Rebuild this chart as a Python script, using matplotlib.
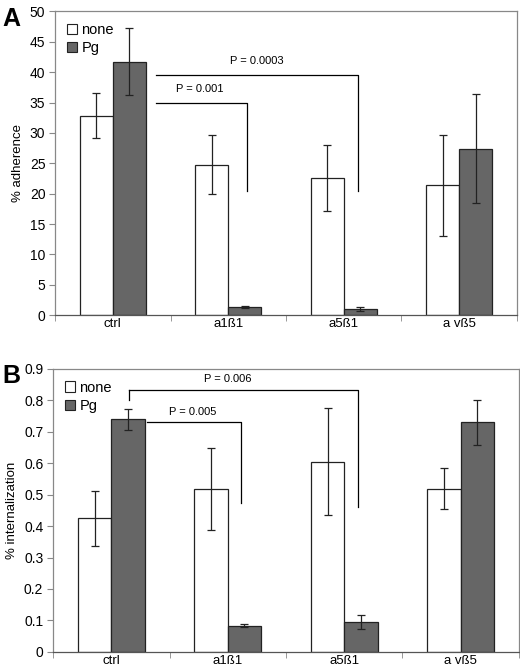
import numpy as np
import matplotlib
matplotlib.use('Agg')
import matplotlib.pyplot as plt
from matplotlib.patches import Patch

plt.rcParams['font.family'] = ['Liberation Sans', 'DejaVu Sans']

categories = ['ctrl', 'a1ß1', 'a5ß1', 'a vß5']
series_names = ['none', 'Pg']

# panel A: % adherence
adh_none = [32.8, 24.8, 22.6, 21.4]
adh_none_err = [3.7, 4.8, 5.4, 8.3]
adh_pg = [41.7, 1.3, 1.0, 27.4]
adh_pg_err = [5.5, 0.2, 0.3, 9.0]

# panel B: % internalization
int_none = [0.425, 0.519, 0.605, 0.519]
int_none_err = [0.087, 0.130, 0.170, 0.066]
int_pg = [0.740, 0.083, 0.095, 0.730]
int_pg_err = [0.033, 0.004, 0.022, 0.072]

# significance brackets: (label, x_start, x_end, y_line, y_drop, x_text, y_text)
brackets_a = [('P = 0.001', 0.37, 1.16, 35.0, 20.5, 0.75, 36.4),
              ('P = 0.0003', 0.37, 2.12, 39.6, 20.5, 1.25, 41.0)]
brackets_b = [('P = 0.005', 0.31, 1.11, 0.730, 0.474, 0.70, 0.748),
              ('P = 0.006', 0.15, 2.12, 0.833, 0.460, 1.00, 0.852)]

WHITE = '#ffffff'
GREY = '#666666'
EDGE = '#222222'


def panel(ax, none, none_err, pg, pg_err, ymax, ystep, ylabel, brackets, start_tick=None):
    x = np.arange(len(categories))
    w = 0.287
    ax.bar(x - w / 2, none, w, color=WHITE, edgecolor=EDGE, linewidth=0.9,
           yerr=none_err, error_kw=dict(ecolor='#222222', elinewidth=0.9, capsize=3, capthick=0.9))
    ax.bar(x + w / 2, pg, w, color=GREY, edgecolor=EDGE, linewidth=0.9,
           yerr=pg_err, error_kw=dict(ecolor='#222222', elinewidth=0.9, capsize=3, capthick=0.9))

    for label, x0, x1, yl, yd, xt, yt in brackets:
        ax.plot([x0, x1, x1], [yl, yl, yd], color='black', linewidth=0.9)
        ax.text(xt, yt, label, ha='center', va='bottom', fontsize=8)
    if start_tick is not None:
        ax.plot([start_tick[0], start_tick[0]], [start_tick[1], start_tick[2]],
                color='black', linewidth=0.9)

    ax.set_xlim(-0.5, len(categories) - 0.5)
    ax.set_ylim(0, ymax)
    yt = np.arange(0, ymax + ystep / 2, ystep).round(2)
    ax.set_yticks(yt)
    ax.set_yticklabels(['%g' % v for v in yt])
    ax.set_xticks(x)
    ax.set_xticklabels(categories)
    ax.set_xticks(np.arange(-0.5, len(categories)), minor=True)
    ax.tick_params(axis='x', which='major', length=0, labelsize=9.5, pad=2)
    ax.tick_params(axis='x', which='minor', length=4, color='#888888', direction='out')
    ax.tick_params(axis='y', length=4, color='#888888', labelsize=10, pad=3)
    for side in ['top', 'right', 'left']:
        ax.spines[side].set_color('#888888')
        ax.spines[side].set_linewidth(0.9)
    ax.spines['bottom'].set_color('#555555')
    ax.spines['bottom'].set_linewidth(0.9)
    ax.set_ylabel(ylabel, fontsize=9.5, labelpad=4)

    handles = [Patch(facecolor=WHITE, edgecolor=EDGE, linewidth=0.8),
               Patch(facecolor=GREY, edgecolor=EDGE, linewidth=0.8)]
    ax.legend(handles, series_names, loc='upper left', frameon=False, fontsize=10.5,
              handlelength=0.7, handleheight=0.7, handletextpad=0.3, labelspacing=0.3,
              borderaxespad=0.4)


fig = plt.figure(figsize=(5.2, 6.72), dpi=100)
ax_a = fig.add_axes([0.106, 0.531, 0.888, 0.452])
ax_b = fig.add_axes([0.102, 0.030, 0.896, 0.421])

panel(ax_a, adh_none, adh_none_err, adh_pg, adh_pg_err, 50, 5, '% adherence', brackets_a)
panel(ax_b, int_none, int_none_err, int_pg, int_pg_err, 0.9, 0.1, '% internalization', brackets_b,
      start_tick=(0.15, 0.833, 0.80))

fig.text(0.004, 0.99, 'A', fontsize=18, fontweight='bold', va='top', ha='left')
fig.text(0.004, 0.458, 'B', fontsize=18, fontweight='bold', va='top', ha='left')

fig.savefig('out.png', dpi=100)
plt.close(fig)
